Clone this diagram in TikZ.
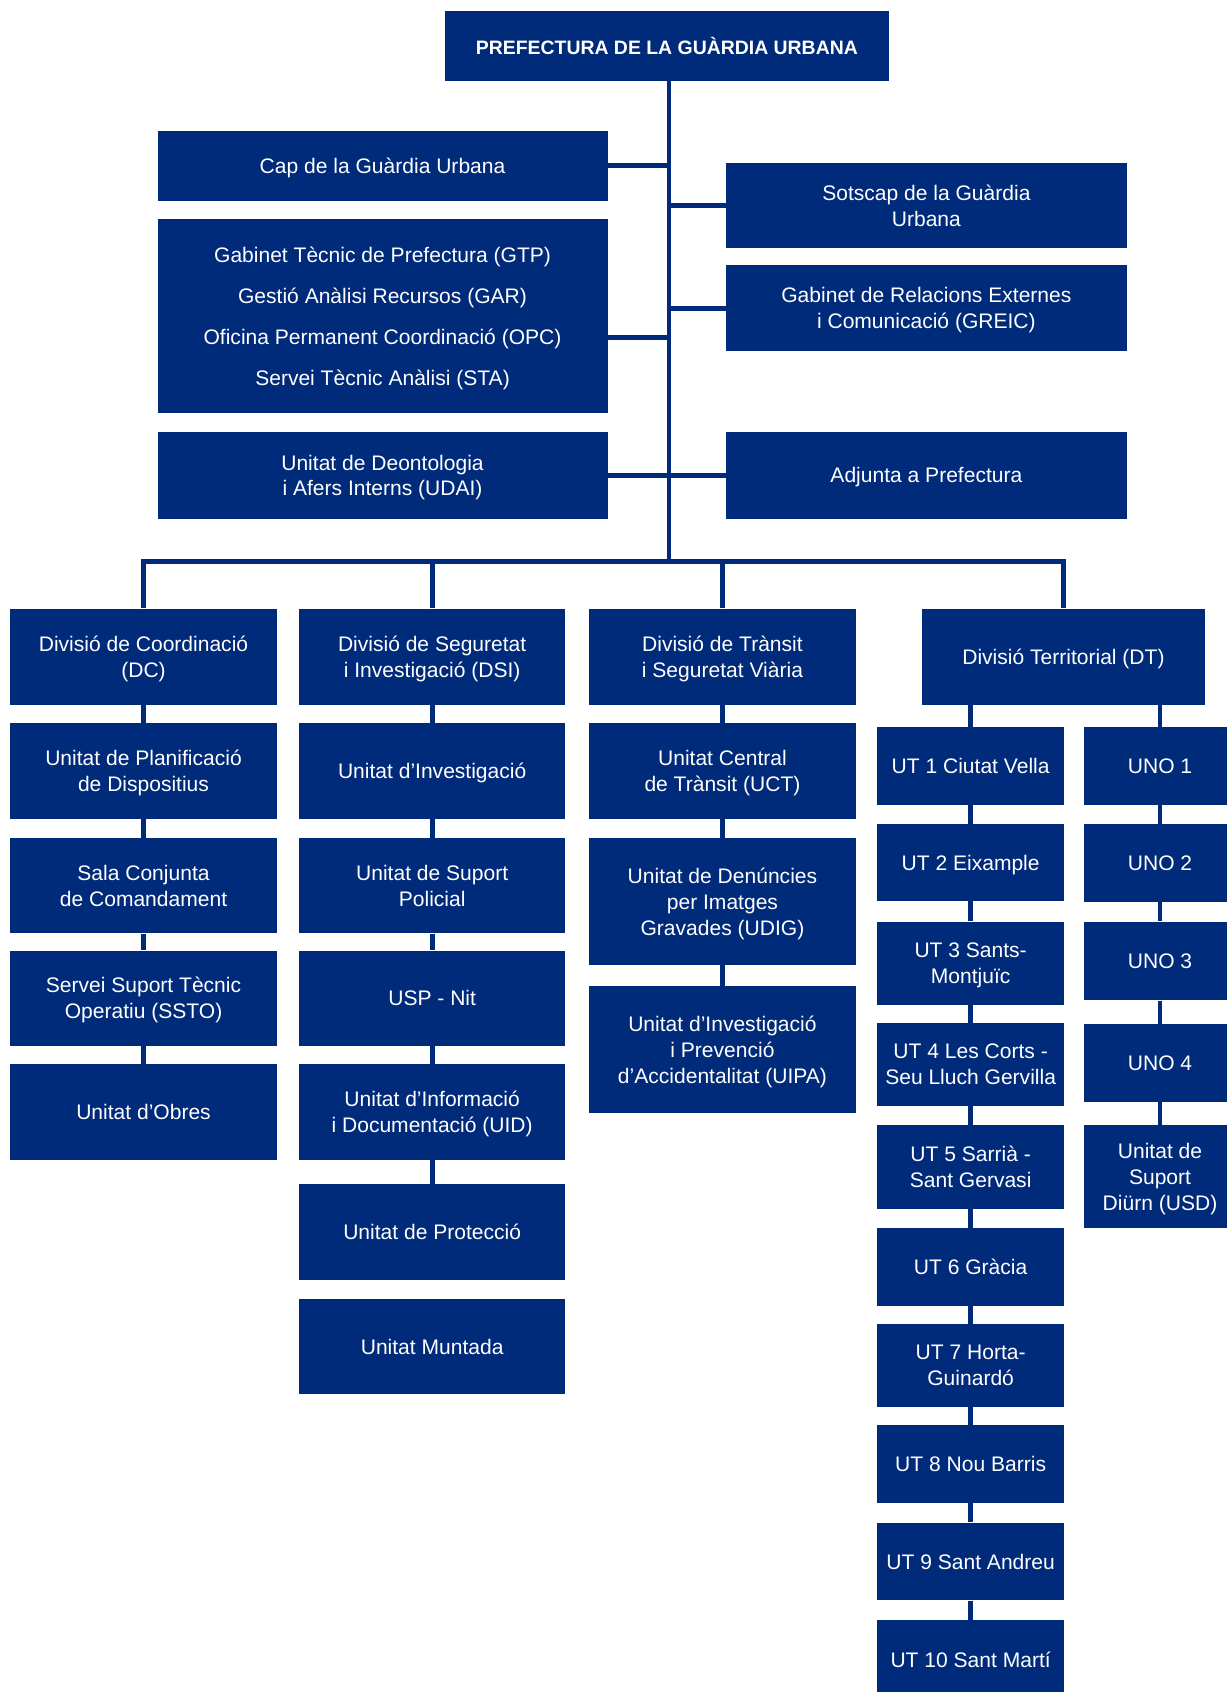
\documentclass[tikz,border=0pt]{standalone}
\usepackage{fontspec}
\setmainfont{Liberation Sans}
\definecolor{navy}{RGB}{0,42,122}
\tikzset{
  box/.style={fill=navy, text=white, inner sep=0pt, align=center, text depth=0pt, font=\fontsize{19.5}{24}\selectfont},
  conn/.style={draw=navy, line width=4.5pt}
}
\newcommand\bx[6]{\node[box, minimum width={(#4-#2)*1pt}, minimum height={(#5-#3)*1pt}] (#1) at ({(#2+#4)/2},{(#3+#5)/2}) {#6};}
\begin{document}
\begin{tikzpicture}[x=1pt,y=-1pt]
\useasboundingbox (0,0) rectangle (1137,1568);
% top
\node[box, font=\bfseries\fontsize{18}{22}\selectfont, minimum width=412pt, minimum height=65pt] (pref) at (618,42.5) {PREFECTURA DE LA GUÀRDIA URBANA};
\bx{cap}{146}{121}{563}{186}{Cap de la Guàrdia Urbana}
\node[box, font=\fontsize{19.5}{38}\selectfont, minimum width=417pt, minimum height=180pt] (gtp) at (354.5,293) {Gabinet Tècnic de Prefectura (GTP)\\Gestió Anàlisi Recursos (GAR)\\Oficina Permanent Coordinació (OPC)\\Servei Tècnic Anàlisi (STA)};
\bx{udai}{146}{400}{563}{481}{Unitat de Deontologia\\i Afers Interns (UDAI)}
\bx{sots}{673}{151}{1044}{230}{Sotscap de la Guàrdia\\Urbana}
\bx{greic}{673}{246}{1044}{325}{Gabinet de Relacions Externes\\i Comunicació (GREIC)}
\bx{adj}{673}{400}{1044}{481}{Adjunta a Prefectura}
% divisions
\bx{dc}{9}{564}{257}{653}{Divisió de Coordinació\\(DC)}
\bx{dsi}{277}{564}{524}{653}{Divisió de Seguretat\\i Investigació (DSI)}
\bx{dtr}{546}{564}{793}{653}{Divisió de Trànsit\\i Seguretat Viària}
\bx{dt}{854}{564}{1117}{653}{Divisió Territorial (DT)}
% column 1
\bx{planif}{9}{670}{257}{759}{Unitat de Planificació\\de Dispositius}
\bx{sala}{9}{777}{257}{865}{Sala Conjunta\\de Comandament}
\bx{ssto}{9}{881}{257}{969}{Servei Suport Tècnic\\Operatiu (SSTO)}
\bx{obres}{9}{986}{257}{1075}{Unitat d’Obres}
% column 2
\bx{uinv}{277}{670}{524}{759}{Unitat d’Investigació}
\bx{usp}{277}{777}{524}{865}{Unitat de Suport\\Policial}
\bx{uspnit}{277}{881}{524}{969}{USP - Nit}
\bx{uid}{277}{986}{524}{1075}{Unitat d’Informació\\i Documentació (UID)}
\bx{prot}{277}{1097}{524}{1186}{Unitat de Protecció}
\bx{munt}{277}{1204}{524}{1292}{Unitat Muntada}
% column 3
\bx{uct}{546}{670}{793}{759}{Unitat Central\\de Trànsit (UCT)}
\bx{udig}{546}{777}{793}{894}{Unitat de Denúncies\\per Imatges\\Gravades (UDIG)}
\bx{uipa}{546}{914}{793}{1031}{Unitat d’Investigació\\i Prevenció\\d’Accidentalitat (UIPA)}
% UT column
\bx{ut1}{813}{674}{986}{746}{UT 1 Ciutat Vella}
\bx{ut2}{813}{764}{986}{835}{UT 2 Eixample}
\bx{ut3}{813}{854}{986}{931}{UT 3 Sants-\\Montjuïc}
\bx{ut4}{813}{948}{986}{1025}{UT 4 Les Corts -\\Seu Lluch Gervilla}
\bx{ut5}{813}{1043}{986}{1120}{UT 5 Sarrià -\\Sant Gervasi}
\bx{ut6}{813}{1138}{986}{1210}{UT 6 Gràcia}
\bx{ut7}{813}{1227}{986}{1304}{UT 7 Horta-\\Guinardó}
\bx{ut8}{813}{1321}{986}{1393}{UT 8 Nou Barris}
\bx{ut9}{813}{1411}{986}{1483}{UT 9 Sant Andreu}
\bx{ut10}{813}{1501}{986}{1575}{UT 10 Sant Martí}
% UNO column
\bx{uno1}{1005}{674}{1145}{746}{UNO 1}
\bx{uno2}{1005}{764}{1145}{836}{UNO 2}
\bx{uno3}{1005}{854}{1145}{927}{UNO 3}
\bx{uno4}{1005}{949}{1145}{1021}{UNO 4}
\bx{usd}{1005}{1043}{1145}{1138}{Unitat de\\Suport\\Diürn (USD)}
% connectors
\coordinate (bus) at (620,520);
\coordinate (gtpc) at (563,313);
\draw[conn] (pref.south -| bus) -- (bus);
\draw[conn] (cap.east) -- (cap.east -| bus);
\draw[conn] (gtpc) -- (gtpc -| bus);
\draw[conn] (udai.east) -- (udai.east -| bus);
\draw[conn] (sots.west) -- (sots.west -| bus);
\draw[conn] (greic.west) -- (greic.west -| bus);
\draw[conn] (adj.west) -- (adj.west -| bus);
\draw[conn, line join=miter] (dc.north) -- (dc.north |- bus) -- (dt.north |- bus) -- (dt.north);
\draw[conn] (dsi.north) -- (dsi.north |- bus);
\draw[conn] (dtr.north) -- (dtr.north |- bus);
\foreach \a/\b in {dc/planif, planif/sala, sala/ssto, ssto/obres,
  dsi/uinv, uinv/usp, usp/uspnit, uspnit/uid, uid/prot,
  dtr/uct, uct/udig, udig/uipa,
  ut1/ut2, ut2/ut3, ut3/ut4, ut4/ut5, ut5/ut6, ut6/ut7, ut7/ut8, ut8/ut9, ut9/ut10,
  uno1/uno2, uno2/uno3, uno3/uno4, uno4/usd}
  \draw[conn] (\a.south) -- (\b.north);
\draw[conn] (dt.south -| ut1.north) -- (ut1.north);
\draw[conn] (dt.south -| uno1.north) -- (uno1.north);
\end{tikzpicture}
\end{document}
